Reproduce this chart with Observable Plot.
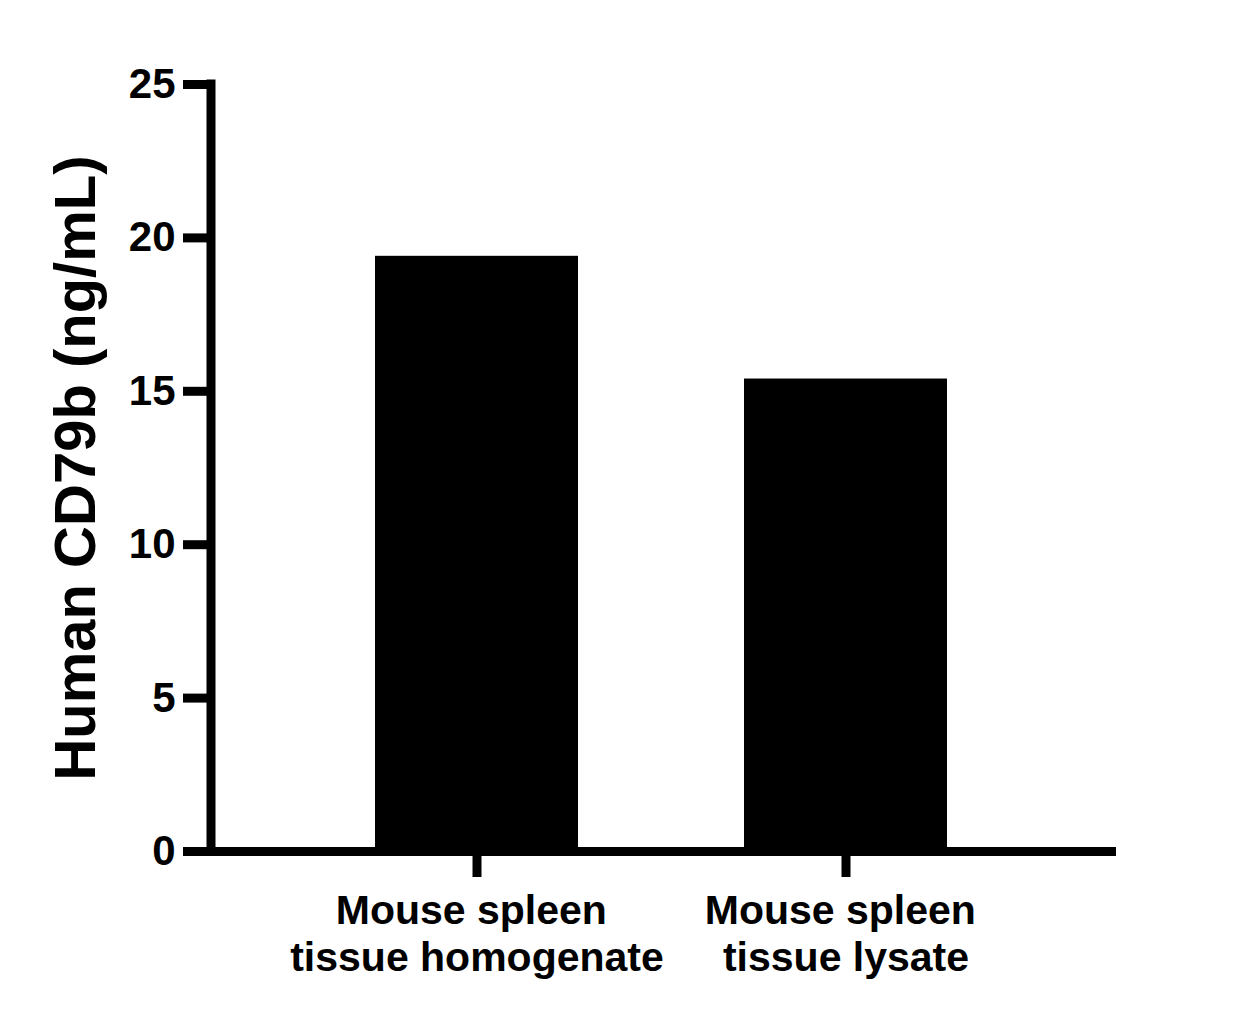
<!DOCTYPE html>
<html>
<head>
<meta charset="utf-8">
<script src="https://cdn.jsdelivr.net/npm/d3@7"></script>
<script src="https://cdn.jsdelivr.net/npm/@observablehq/plot@0.6"></script>
<style>
  html, body { margin: 0; padding: 0; background: #fff; }
</style>
</head>
<body>
<div id="chart"></div>
<script>
const categories = ["Mouse spleen\u00A0\ntissue homogenate", "Mouse spleen\u00A0\ntissue lysate"];
const values = [19.4, 15.4];
const yTicks = [0, 5, 10, 15, 20, 25];
const yTitle = "Human CD79b (ng/mL)";

const data = categories.map((c, i) => ({category: c, value: values[i]}));

const FONT = "'Liberation Sans', Arial, Helvetica, sans-serif";
const LW = 9;

function yAxisLine(index, scales, values, dims) {
  const ns = "http://www.w3.org/2000/svg";
  const line = document.createElementNS(ns, "line");
  const x = dims.marginLeft;
  line.setAttribute("x1", x);
  line.setAttribute("x2", x);
  line.setAttribute("y1", scales.y(d3.max(yTicks)) - LW / 2);
  line.setAttribute("y2", scales.y(0) + LW / 2);
  line.setAttribute("stroke", "black");
  line.setAttribute("stroke-width", LW);
  return line;
}

const chart = Plot.plot({
  width: 1251,
  height: 1018,
  marginLeft: 211,
  marginRight: 135,
  marginTop: 84,
  marginBottom: 167,
  style: {fontFamily: FONT, background: "white", color: "black", overflow: "visible"},
  x: {domain: categories, paddingInner: 0.45, paddingOuter: 0.448, align: 0.492, label: null},
  y: {domain: [0, 25], label: null},
  marks: [
    Plot.barY(data, {x: "category", y: "value", fill: "black"}),
    Plot.ruleY([0], {stroke: "black", strokeWidth: LW, insetLeft: -28}),
    yAxisLine,
    Plot.axisY(yTicks, {tickSize: 28, tickPadding: 8, fontSize: 42, fontWeight: "bold", strokeWidth: LW, stroke: "black", fill: "black", label: null}),
    Plot.axisX({tickSize: 26, tickPadding: 14, fontSize: 41, fontWeight: "bold", strokeWidth: LW, stroke: "black", fill: "black", lineHeight: 1.13, label: null}),
    Plot.text([yTitle], {text: d => d, frameAnchor: "left", textAnchor: "middle", lineAnchor: "middle", rotate: -90, dx: -135, fontSize: 58, fontWeight: "bold", fill: "black"})
  ]
});
document.getElementById("chart").appendChild(chart);
</script>
</body>
</html>
